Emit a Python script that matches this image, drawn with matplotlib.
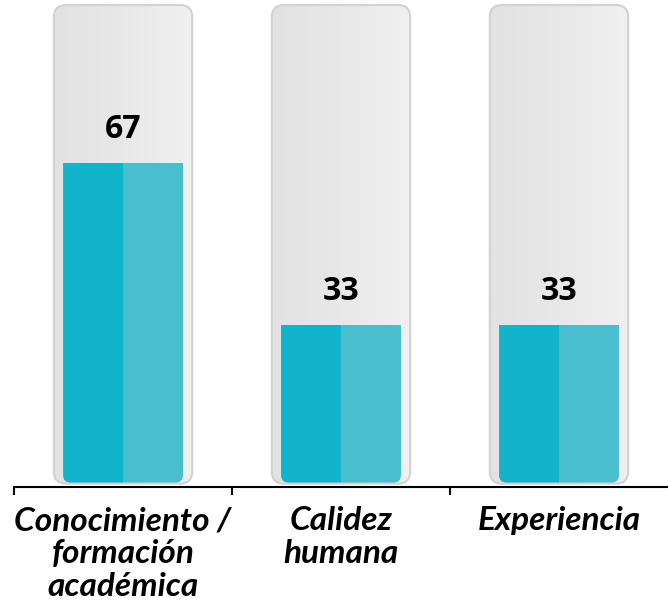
import matplotlib.pyplot as plt
import numpy as np
from matplotlib.patches import FancyBboxPatch
from matplotlib.colors import LinearSegmentedColormap

categories = ["Conocimiento /\nformación\nacadémica", "Calidez\nhumana", "Experiencia"]
values = [67, 33, 33]
full = [100, 100, 100]

x = np.arange(len(categories))

fig = plt.figure(figsize=(6.68, 6.14), dpi=100)
ax = fig.add_axes([0.021, 0.207, 0.979, 0.787])

tube_w = 0.625
fill_w = 0.55
aspect = 45
tube_cmap = LinearSegmentedColormap.from_list('tube', ['#E3E2E3', '#E9E8E9', '#F0F0F0'])


def rounded(bar, r, **kw):
    p = FancyBboxPatch((bar.get_x(), bar.get_y()), bar.get_width(), bar.get_height(),
                       boxstyle=f"round,pad=0,rounding_size={r}",
                       mutation_aspect=aspect, **kw)
    ax.add_patch(p)
    bar.remove()
    return p


# glass tubes
tubes = ax.bar(x, full, width=tube_w, color='#ECECEC')
grad = np.linspace(0, 1, 100).reshape(1, -1)
for b in tubes:
    p = rounded(b, 0.05, facecolor='#EBEBEB', edgecolor='#D2D2D2', linewidth=3, zorder=1)
    x0, w = b.get_x(), b.get_width()
    im = ax.imshow(grad, extent=[x0, x0 + w, 0, 100], aspect='auto', cmap=tube_cmap,
                   zorder=1.5)
    im.set_clip_path(p)

# filled levels, two tones (only bottom corners rounded)
left = ax.bar(x - fill_w / 4, values, width=fill_w / 2, color='#12B4CB', zorder=2)
right = ax.bar(x + fill_w / 4, values, width=fill_w / 2, color='#48BECE', zorder=2)
for bl, br in zip(left, right):
    clip = FancyBboxPatch((bl.get_x(), bl.get_y()), fill_w, bl.get_height() + 10,
                          boxstyle="round,pad=0,rounding_size=0.035",
                          mutation_aspect=aspect, facecolor='none', edgecolor='none')
    ax.add_patch(clip)
    bl.set_clip_path(clip)
    br.set_clip_path(clip)

for xi, v in zip(x, values):
    ax.text(xi, v + 7, str(v), ha='center', va='center', fontsize=23,
            fontweight='bold', family='Open Sans', color='black', zorder=3)

ax.set_xlim(-0.5, 2.5)
ax.set_ylim(-0.9, 100.5)
ax.set_xticks(x)
ax.set_xticklabels(categories, fontsize=24, fontweight='bold', style='italic',
                   family='Lato', linespacing=1.15)
ax.tick_params(axis='x', which='major', length=0, pad=14)
ax.set_xticks(np.arange(-0.5, 2.5, 1), minor=True)
ax.tick_params(axis='x', which='minor', length=6, width=1.5, direction='out')
ax.set_yticks([])
for s in ['left', 'top', 'right']:
    ax.spines[s].set_visible(False)
ax.spines['bottom'].set_linewidth(1.5)

plt.savefig('out.png', dpi=100)
